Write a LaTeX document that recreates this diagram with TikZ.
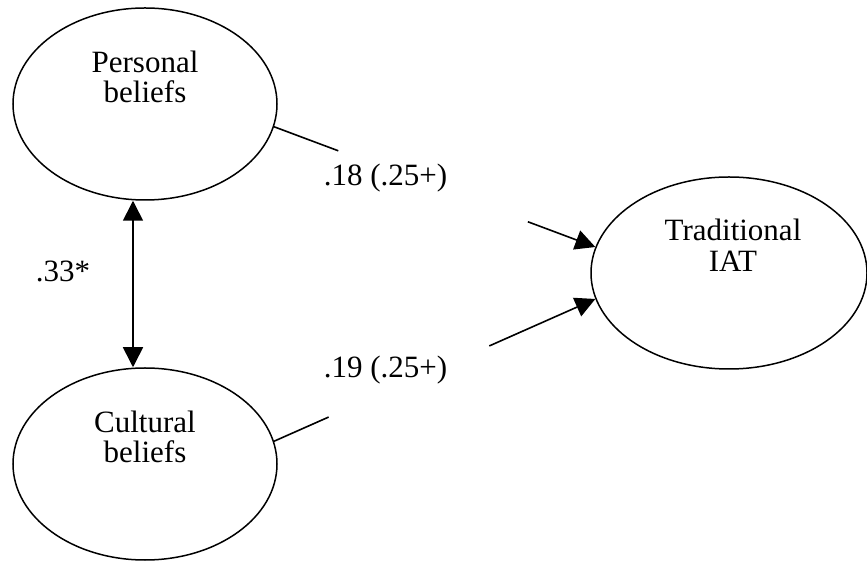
\documentclass[tikz,border=0pt]{standalone}
\usepackage{fontspec}
\setmainfont{Liberation Serif}
\usetikzlibrary{arrows.meta,shapes.geometric}
\begin{document}
\begin{tikzpicture}[x=1pt,y=1pt,
  latent/.style={draw,ellipse,line width=1.5pt,inner sep=0pt},
  txt/.style={font=\fontsize{31}{31}\selectfont,inner sep=0pt,anchor=base},
  conn/.style={line width=1.6pt},
  tip/.style={-{Triangle[length=20pt,width=20pt]}}
]
\useasboundingbox (0,0) rectangle (867,562);
\node[latent,minimum width=264pt,minimum height=192pt] (P) at (145,458) {};
\node[latent,minimum width=264pt,minimum height=192pt] (C) at (145,98) {};
\node[latent,minimum width=276pt,minimum height=192pt] (T) at (729,289) {};
% texts
\node[txt] (p1) at ([yshift=31pt]P.center) {Personal};
\node[txt] (p2) at ([yshift=1pt]P.center) {beliefs};
\node[txt] (c1) at ([yshift=31pt]C.center) {Cultural};
\node[txt] (c2) at ([yshift=1pt]C.center) {beliefs};
\node[txt] (t1) at ([xshift=4pt,yshift=32pt]T.center) {Traditional};
\node[txt] (t2) at ([xshift=4pt,yshift=1pt]T.center) {IAT};
% correlation
\draw[conn,{Triangle[length=20pt,width=20pt]}-{Triangle[length=20pt,width=20pt]}]
  ([xshift=-12pt]P.south) -- ([xshift=-12pt]C.north);
\node[txt] (r) at (63,280) {.33*};
% paths
\path (P.-10) -- (T.169) coordinate[pos=0.2] (a1) coordinate[pos=0.79] (a2);
\draw[conn] (P.-10) -- (a1);
\draw[conn,tip] (a2) -- (T.169);
\node[txt] (l1) at (385.5,376) {.18 (.25+)};
\path (C.10) -- (T.191) coordinate[pos=0.17] (b1) coordinate[pos=0.67] (b2);
\draw[conn] (C.10) -- (b1);
\draw[conn,tip] (b2) -- (T.191);
\node[txt] (l2) at (385.5,184) {.19 (.25+)};
\end{tikzpicture}
\end{document}
